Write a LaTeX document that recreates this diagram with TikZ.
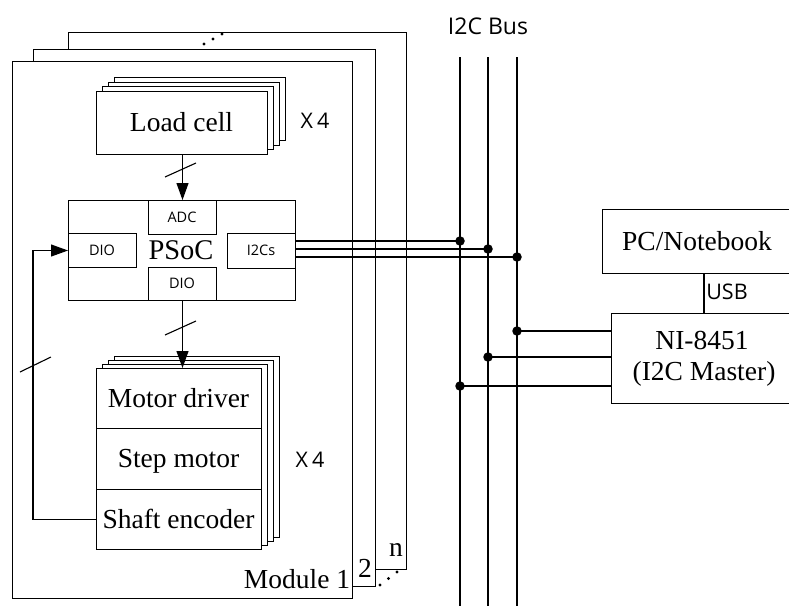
\documentclass[tikz,border=0pt]{standalone}
\usepackage{fontspec}
\setmainfont{Liberation Serif}
\newfontfamily\sansf{Open Sans}
\usetikzlibrary{arrows.meta}
\begin{document}
\begin{tikzpicture}[x=1pt,y=-1pt,
  modbox/.style={draw, fill=white, line width=1.3pt, inner sep=0pt, anchor=north west},
  blk/.style={draw, fill=white, line width=1pt, inner sep=0pt, anchor=north west},
  txt/.style={anchor=base, inner sep=0pt, font=\fontsize{27.5}{30}\selectfont},
  bigtxt/.style={anchor=base, inner sep=0pt, font=\fontsize{28.5}{30}\selectfont},
  stxt/.style={anchor=base, inner sep=0pt, font=\sansf\fontsize{14.5}{16}\selectfont},
  mtxt/.style={anchor=base, inner sep=0pt, font=\sansf\fontsize{21.5}{24}\selectfont},
  wire/.style={line width=1.1pt},
  bus/.style={line width=1.5pt},
  arr/.style={line width=1.1pt, -{Triangle[length=17pt,width=12pt]}},
  junc/.style={circle, fill=black, inner sep=0pt, minimum size=9.5pt}
]
\useasboundingbox (0,0) rectangle (789,605);

% module boxes
\node[modbox, minimum width=338pt, minimum height=537pt] (modn) at (68,32) {};
\node[modbox, minimum width=342pt, minimum height=537pt] (mod2) at (33,49) {};
\node[modbox, minimum width=340pt, minimum height=537pt] (mod1) at (12,61) {};
\foreach \p in {(204,44),(213,39),(222,34),(380,585),(388.5,578.5),(397,572)}
  \fill \p circle (1.6pt);
\node[txt] (ln) at (396,556) {n};
\node[txt] (l2) at (365,577) {2};
\node[txt] (l1) at (297,588) {Module 1};

% load cell stack
\foreach \k in {3,2,1}
  \node[blk, minimum width=171pt, minimum height=63pt] (lc\k) at ({96+6*\k},{91-4.7*\k}) {};
\node[blk, minimum width=171pt, minimum height=63pt] (load) at (96,91) {};
\node[txt] (tload) at (181.5,131) {Load cell};
\node[mtxt] (x4a) at (315,128) {X\hspace{4pt}4};

% PSoC
\node[blk, minimum width=227pt, minimum height=100pt] (psoc) at (68,200) {};
\node[blk, minimum width=68pt, minimum height=34pt] (adc) at (148,200) {};
\node[blk, minimum width=68pt, minimum height=34pt] (diol) at (68,233) {};
\node[blk, minimum width=68pt, minimum height=35pt] (i2cs) at (227,233) {};
\node[blk, minimum width=68pt, minimum height=33pt] (diob) at (148,267) {};
\node[bigtxt] (tpsoc) at (181,259) {PSoC};
\node[stxt] (tadc) at (182,222) {ADC};
\node[stxt] (tdiol) at (102,255) {DIO};
\node[stxt] (ti2cs) at (261,255) {I2Cs};
\node[stxt] (tdiob) at (182,288) {DIO};

% motor stack
\foreach \k in {3,2,1}
  \node[blk, minimum width=165pt, minimum height=181pt] (ms\k) at ({96+6*\k},{368-4*\k}) {};
\node[blk, minimum width=165pt, minimum height=60.33pt] (md) at (96,368) {};
\node[blk, minimum width=165pt, minimum height=60.33pt] (sm) at (96,428.33) {};
\node[blk, minimum width=165pt, minimum height=60.33pt] (se) at (96,488.67) {};
\node[txt] (tmd) at (178.5,407) {Motor driver};
\node[txt] (tsm) at (178.5,467) {Step motor};
\node[txt] (tse) at (178.5,528) {Shaft encoder};
\node[mtxt] (x4b) at (310,467) {X\hspace{4pt}4};

% arrows
\draw[arr] (load.south -| adc.north) -- (adc.north);
\draw[wire] (165,177) -- (196,163);
\draw[arr] (diob.south) -- (diob.south |- md.north);
\draw[wire] (165,335) -- (196,321);
\coordinate (fbx) at (33,0);
\draw[arr] (se.west) -- (se.west -| fbx) |- (diol.west);
\draw[wire] (20,372) -- (51,357);

% I2C bus
\node[mtxt, font=\sansf\fontsize{23}{26}\selectfont] (tbus) at (488,34) {I2C Bus};
\foreach \n/\x in {1/460,2/488,3/517}{
  \coordinate (bt\n) at (\x,57);
  \coordinate (bb\n) at (\x,607);
  \draw[bus] (bt\n) -- (bb\n);
}
\coordinate (j1) at (460,241);
\coordinate (j2) at (488,249);
\coordinate (j3) at (517,257);
\coordinate (k3) at (517,331);
\coordinate (k2) at (488,357);
\coordinate (k1) at (460,386);

% PC and NI
\node[blk, line width=1.2pt, minimum width=190pt, minimum height=64pt] (pc) at (602,209) {};
\node[txt] (tpc) at (697,250) {PC/Notebook};
\node[blk, line width=1.2pt, minimum width=182pt, minimum height=90pt] (ni) at (611,313) {};
\node[txt] (tni1) at (702,349) {NI-8451};
\node[txt] (tni2) at (704,380) {(I2C Master)};
\draw[wire] (pc.south -| 704,0) -- (ni.north -| 704,0);
\node[mtxt] (tusb) at (727,299) {USB};

\foreach \j in {j1,j2,j3}{
  \draw[wire] (i2cs.east |- \j) -- (\j);
  \node[junc] at (\j) {};
}
\foreach \j in {k1,k2,k3}{
  \draw[wire] (\j) -- (ni.west |- \j);
  \node[junc] at (\j) {};
}
\end{tikzpicture}
\end{document}
